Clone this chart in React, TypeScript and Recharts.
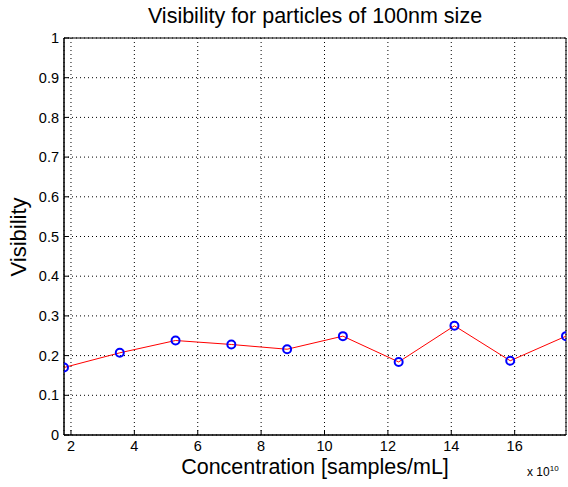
import {
  LineChart,
  Line,
  XAxis,
  YAxis,
  CartesianGrid,
  ReferenceArea,
} from "recharts";

// concentration in units of 1e10 samples/mL
const concentration = [1.78, 3.54, 5.3, 7.06, 8.82, 10.58, 12.34, 14.1, 15.86, 17.62];
const visibility = [0.17, 0.207, 0.238, 0.228, 0.216, 0.249, 0.184, 0.275, 0.187, 0.249];
const xTicks = [2, 4, 6, 8, 10, 12, 14, 16];
const yTicks = [0, 0.1, 0.2, 0.3, 0.4, 0.5, 0.6, 0.7, 0.8, 0.9, 1];

const data = concentration.map((c, i) => ({ x: c, v: visibility[i] }));

const FONT = "'Liberation Sans', Arial, sans-serif";
const tickStyle = { fill: "#000", fontSize: 14.5, fontFamily: FONT };

const Blank = () => <g />;

export default function App() {
  const xDomain: [number, number] = [concentration[0], concentration[concentration.length - 1]];
  return (
    <div style={{ position: "absolute", left: 0, top: 0, width: 568, height: 487, background: "#fff" }}>
      <LineChart width={568} height={487} data={data} margin={{ top: 38, right: 2, bottom: 0, left: 0 }}>
        <CartesianGrid xAxisId="b" yAxisId="l" stroke="#000" strokeDasharray="1 3" />
        <XAxis
          xAxisId="b"
          dataKey="x"
          type="number"
          domain={xDomain}
          ticks={xTicks}
          allowDataOverflow
          height={52}
          stroke="#000"
          tickSize={-5}
          tickMargin={11}
          tick={tickStyle}
        />
        <XAxis
          xAxisId="t"
          dataKey="x"
          type="number"
          orientation="top"
          domain={xDomain}
          ticks={xTicks}
          allowDataOverflow
          height={0}
          stroke="#000"
          tickSize={-5}
          tick={Blank}
        />
        <YAxis
          yAxisId="l"
          type="number"
          domain={[0, 1]}
          ticks={yTicks}
          width={64}
          stroke="#000"
          tickSize={-5}
          tickMargin={10}
          tick={tickStyle}
        />
        <YAxis
          yAxisId="r"
          type="number"
          orientation="right"
          domain={[0, 1]}
          ticks={yTicks}
          width={0}
          stroke="#000"
          tickSize={-5}
          tick={Blank}
        />
        <ReferenceArea
          xAxisId="b"
          yAxisId="l"
          x1={xDomain[0]}
          x2={xDomain[1]}
          y1={0}
          y2={1}
          fill="none"
          stroke="#000"
          strokeWidth={1}
        />
        <Line
          xAxisId="b"
          yAxisId="l"
          dataKey="v"
          type="linear"
          stroke="#ff0000"
          strokeWidth={1}
          dot={{ r: 4, stroke: "#0000ff", strokeWidth: 2, fill: "none" }}
          isAnimationActive={false}
        />
      </LineChart>
      <div
        style={{
          position: "absolute",
          left: 64,
          width: 502,
          top: 4,
          textAlign: "center",
          fontFamily: FONT,
          fontSize: 21.5,
          color: "#000",
        }}
      >
        Visibility for particles of 100nm size
      </div>
      <div
        style={{
          position: "absolute",
          left: 64,
          width: 502,
          top: 455,
          textAlign: "center",
          fontFamily: FONT,
          fontSize: 21.5,
          color: "#000",
        }}
      >
        Concentration [samples/mL]
      </div>
      <div
        style={{
          position: "absolute",
          left: 19,
          top: 237,
          transform: "translate(-50%, -50%) rotate(-90deg)",
          fontFamily: FONT,
          fontSize: 22,
          color: "#000",
          whiteSpace: "nowrap",
        }}
      >
        Visibility
      </div>
      <div
        style={{
          position: "absolute",
          left: 527,
          top: 464,
          fontFamily: FONT,
          fontSize: 12,
          color: "#000",
          whiteSpace: "nowrap",
        }}
      >
        x 10<sup style={{ fontSize: 8 }}>10</sup>
      </div>
    </div>
  );
}
